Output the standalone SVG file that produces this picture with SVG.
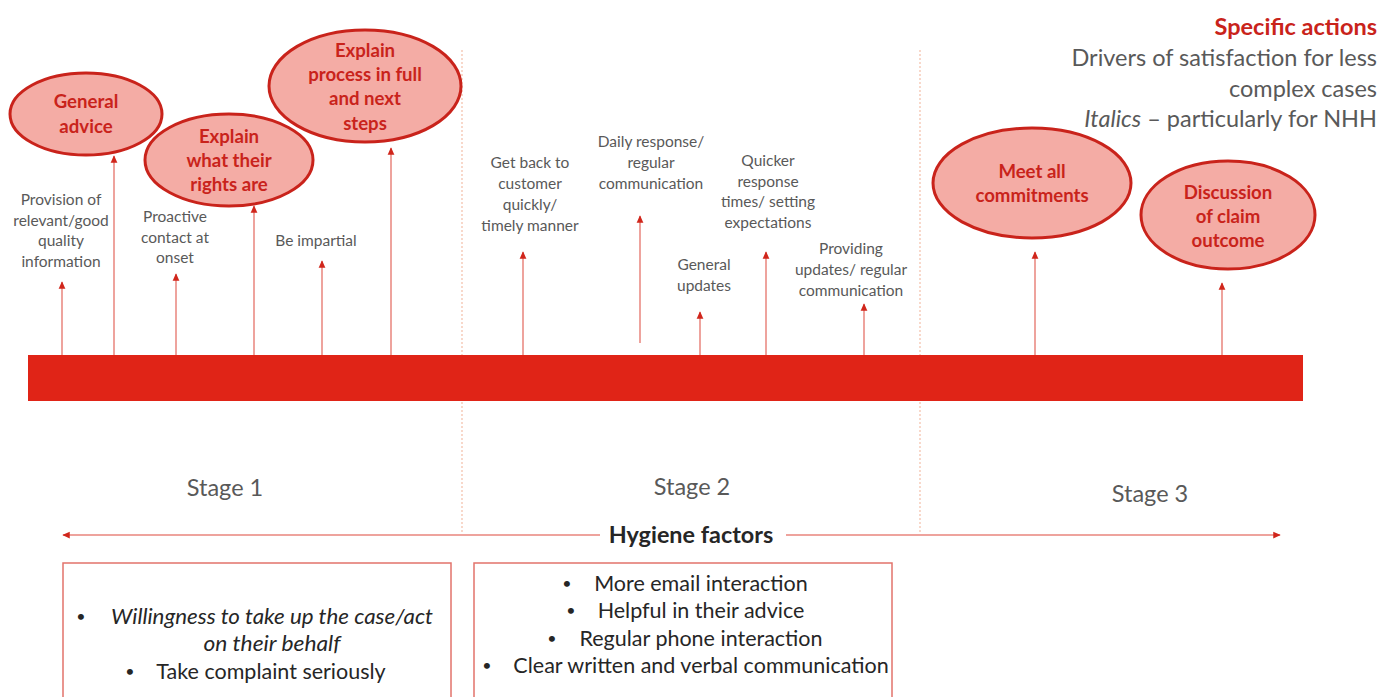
<svg xmlns="http://www.w3.org/2000/svg" width="1381" height="697" viewBox="0 0 1381 697">
  <defs>
    <marker id="tip" viewBox="0 0 10 10" refX="9" refY="5" markerWidth="7.5" markerHeight="7.5" markerUnits="userSpaceOnUse" orient="auto-start-reverse">
      <path d="M0,0.5 L10,5 L0,9.5 Z" fill="#d0261b"/>
    </marker>
    <style>
      text { font-family: Lato, "Open Sans", "Liberation Sans", sans-serif; }
      .oval { fill: #f4aca5; stroke: #c9231b; stroke-width: 3; }
      .ovalText { fill: #c9231b; font-weight: bold; font-size: 18.6px; text-anchor: middle; }
      .small { fill: #595959; font-size: 15.5px; text-anchor: middle; }
      .stage { fill: #595959; font-size: 23.5px; text-anchor: middle; }
      .legend { fill: #595959; font-size: 23.5px; text-anchor: end; }
      .box { fill: none; stroke: #e2736b; stroke-width: 1.5; }
      .boxText { fill: #262626; font-size: 21.5px; text-anchor: middle; }
      .bullet { fill: #262626; font-size: 16px; text-anchor: middle; }
      .stem { stroke: #e8847d; stroke-width: 1.5; fill: none; marker-end: url(#tip); }
      .divider { stroke: #f4bfa8; stroke-width: 1.2; stroke-dasharray: 2 2; }
    </style>
  </defs>

  <rect width="1381" height="697" fill="#ffffff"/>

  <!-- stage dividers -->
  <g id="dividers">
    <line class="divider" x1="462" y1="50" x2="462" y2="533"/>
    <line class="divider" x1="920" y1="50" x2="920" y2="533"/>
  </g>

  <!-- legend -->
  <g id="legend">
    <text x="1377" y="35" class="legend" style="fill:#c9231b;font-weight:bold">Specific actions</text>
    <text x="1377" y="66" class="legend">Drivers of satisfaction for less</text>
    <text x="1377" y="97" class="legend">complex cases</text>
    <text x="1377" y="127" class="legend"><tspan font-style="italic">Italics</tspan> – particularly for NHH</text>
  </g>

  <!-- connectors -->
  <g id="connectors">
    <line class="stem" x1="62" y1="355" x2="62" y2="282"/>
    <line class="stem" x1="114" y1="355" x2="114" y2="156"/>
    <line class="stem" x1="176" y1="355" x2="176" y2="274"/>
    <line class="stem" x1="254" y1="355" x2="254" y2="206"/>
    <line class="stem" x1="322" y1="355" x2="322" y2="261"/>
    <line class="stem" x1="391" y1="355" x2="391" y2="148"/>
    <line class="stem" x1="523" y1="355" x2="523" y2="252"/>
    <line class="stem" x1="640" y1="343" x2="640" y2="216"/>
    <line class="stem" x1="700" y1="355" x2="700" y2="312"/>
    <line class="stem" x1="766" y1="355" x2="766" y2="252"/>
    <line class="stem" x1="864" y1="355" x2="864" y2="304"/>
    <line class="stem" x1="1035" y1="355" x2="1035" y2="252"/>
    <line class="stem" x1="1222" y1="355" x2="1222" y2="283"/>
    <!-- hygiene span -->
    <line class="stem" x1="600" y1="535" x2="63" y2="535"/>
    <line class="stem" x1="786" y1="535" x2="1280" y2="535"/>
  </g>

  <!-- timeline bar -->
  <g id="timeline">
    <rect x="28" y="355" width="1275" height="46" fill="#e02417"/>
  </g>

  <!-- specific actions -->
  <g id="general-advice">
    <ellipse class="oval" cx="86" cy="114" rx="76" ry="41"/>
    <text class="ovalText" x="86" y="108">General</text>
    <text class="ovalText" x="86" y="133">advice</text>
  </g>
  <g id="explain-rights">
    <ellipse class="oval" cx="229" cy="160" rx="84" ry="46"/>
    <text class="ovalText" x="229" y="143">Explain</text>
    <text class="ovalText" x="229" y="167">what their</text>
    <text class="ovalText" x="229" y="191">rights are</text>
  </g>
  <g id="explain-process">
    <ellipse class="oval" cx="365" cy="86" rx="96" ry="56"/>
    <text class="ovalText" x="365" y="57">Explain</text>
    <text class="ovalText" x="365" y="81">process in full</text>
    <text class="ovalText" x="365" y="105">and next</text>
    <text class="ovalText" x="365" y="130">steps</text>
  </g>
  <g id="meet-commitments">
    <ellipse class="oval" cx="1032" cy="183" rx="99" ry="55"/>
    <text class="ovalText" x="1032" y="178">Meet all</text>
    <text class="ovalText" x="1032" y="202">commitments</text>
  </g>
  <g id="claim-outcome">
    <ellipse class="oval" cx="1228" cy="215" rx="87" ry="54"/>
    <text class="ovalText" x="1228" y="199">Discussion</text>
    <text class="ovalText" x="1228" y="223">of claim</text>
    <text class="ovalText" x="1228" y="247">outcome</text>
  </g>

  <!-- drivers -->
  <g id="provision-info">
    <text class="small" x="61" y="205">Provision of</text>
    <text class="small" x="61" y="226">relevant/good</text>
    <text class="small" x="61" y="246">quality</text>
    <text class="small" x="61" y="267">information</text>
  </g>
  <g id="proactive-contact">
    <text class="small" x="175" y="222">Proactive</text>
    <text class="small" x="175" y="243">contact at</text>
    <text class="small" x="175" y="263">onset</text>
  </g>
  <g id="be-impartial">
    <text class="small" x="316" y="246">Be impartial</text>
  </g>
  <g id="get-back">
    <text class="small" x="530" y="168">Get back to</text>
    <text class="small" x="530" y="189">customer</text>
    <text class="small" x="530" y="210">quickly/</text>
    <text class="small" x="530" y="231">timely manner</text>
  </g>
  <g id="daily-response">
    <text class="small" x="651" y="147">Daily response/</text>
    <text class="small" x="651" y="168">regular</text>
    <text class="small" x="651" y="189">communication</text>
  </g>
  <g id="general-updates">
    <text class="small" x="704" y="270">General</text>
    <text class="small" x="704" y="291">updates</text>
  </g>
  <g id="quicker-response">
    <text class="small" x="768" y="166">Quicker</text>
    <text class="small" x="768" y="187">response</text>
    <text class="small" x="768" y="207">times/ setting</text>
    <text class="small" x="768" y="228">expectations</text>
  </g>
  <g id="providing-updates">
    <text class="small" x="851" y="254">Providing</text>
    <text class="small" x="851" y="275">updates/ regular</text>
    <text class="small" x="851" y="296">communication</text>
  </g>

  <!-- stage labels -->
  <g id="stages">
    <text class="stage" x="225" y="496">Stage 1</text>
    <text class="stage" x="692" y="495">Stage 2</text>
    <text class="stage" x="1150" y="502">Stage 3</text>
  </g>

  <g id="hygiene-label">
    <text x="691" y="543" text-anchor="middle" font-size="23.4" font-weight="bold" fill="#262626">Hygiene factors</text>
  </g>

  <!-- hygiene factor boxes -->
  <g id="stage1-hygiene">
    <rect class="box" x="63" y="563" width="388" height="150"/>
    <text class="bullet" x="81" y="622">•</text>
    <text class="boxText" x="272" y="624" font-style="italic" textLength="322" lengthAdjust="spacingAndGlyphs">Willingness to take up the case/act</text>
    <text class="boxText" x="272" y="651" font-style="italic" textLength="137" lengthAdjust="spacingAndGlyphs">on their behalf</text>
    <text class="bullet" x="130" y="677">•</text>
    <text class="boxText" x="271" y="679">Take complaint seriously</text>
  </g>
  <g id="stage2-hygiene">
    <rect class="box" x="474" y="563" width="418" height="150"/>
    <text class="bullet" x="567" y="589">•</text>
    <text class="boxText" x="701" y="591">More email interaction</text>
    <text class="bullet" x="571" y="616">•</text>
    <text class="boxText" x="701" y="618">Helpful in their advice</text>
    <text class="bullet" x="552" y="644">•</text>
    <text class="boxText" x="701" y="646">Regular phone interaction</text>
    <text class="bullet" x="487" y="671">•</text>
    <text class="boxText" x="701" y="673">Clear written and verbal communication</text>
  </g>
</svg>
